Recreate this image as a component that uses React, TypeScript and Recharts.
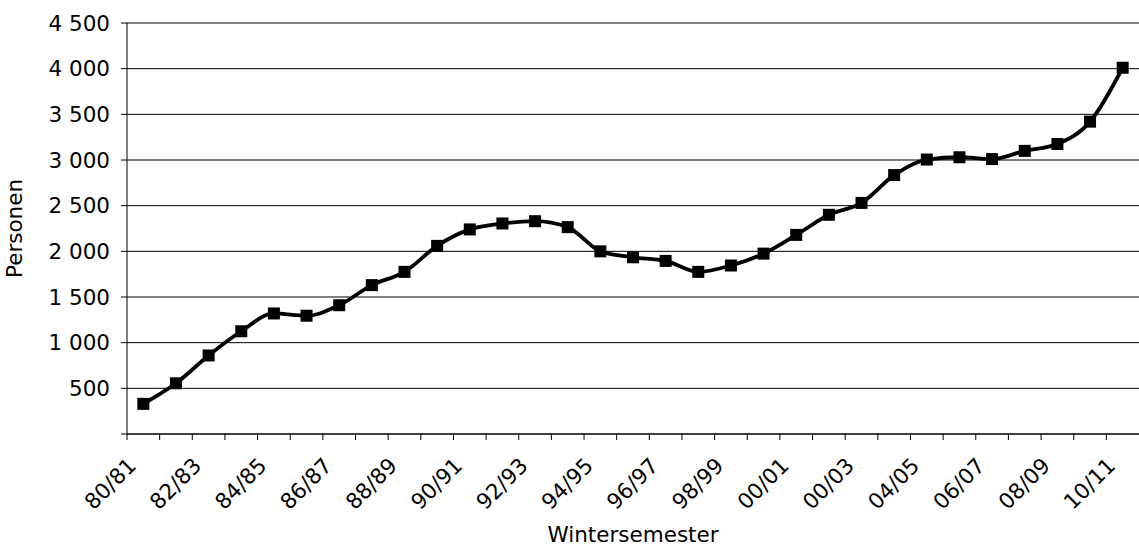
import React from 'react';
import { LineChart, Line, XAxis, YAxis, CartesianGrid, Label } from 'recharts';

const semesters = [
  '80/81', '81/82', '82/83', '83/84', '84/85', '85/86', '86/87', '87/88',
  '88/89', '89/90', '90/91', '91/92', '92/93', '93/94', '94/95', '95/96',
  '96/97', '97/98', '98/99', '99/00', '00/01', '01/02', '00/03', '03/04',
  '04/05', '05/06', '06/07', '07/08', '08/09', '09/10', '10/11',
];

const personen = [
  330, 555, 860, 1125, 1320, 1295, 1410, 1630,
  1775, 2060, 2240, 2305, 2330, 2265, 2000, 1935,
  1895, 1775, 1845, 1975, 2180, 2400, 2530, 2835,
  3005, 3030, 3010, 3100, 3175, 3420, 4010,
];

const yTicks = [0, 500, 1000, 1500, 2000, 2500, 3000, 3500, 4000, 4500];

const data = semesters.map((s, i) => ({ idx: i, label: s, value: personen[i] }));
const xTicks = semesters.map((_, i) => i);

const W = 1139;
const H = 549;
const Y_AXIS_W = 127;
const X_AXIS_H = 115;
const TOP = 23;
const PLOT_W = W - Y_AXIS_W;
const FONT = '"DejaVu Sans", Verdana, sans-serif';
const FS = 21.5;

const fmt = (v: number) => (v === 0 ? '' : v.toLocaleString('en-US').replace(',', ' '));

const XTick = ({ x, y, payload }: any) => {
  const i = payload.value as number;
  const bw = PLOT_W / semesters.length;
  const left = x - bw / 2;
  const ax = x - 6;
  const ay = y + 33;
  return (
    <g>
      <line x1={left} x2={left} y1={y} y2={y + 6} stroke="#000" strokeWidth={1} />
      {i % 2 === 0 && (
        <text
          x={ax}
          y={ay}
          textAnchor="end"
          transform={`rotate(-45, ${ax}, ${ay})`}
          fontFamily={FONT}
          fontSize={FS}
          fill="#000"
        >
          {semesters[i]}
        </text>
      )}
    </g>
  );
};

const SquareDot = (p: any) => (
  <rect key={`d-${p.index}`} x={p.cx - 6} y={p.cy - 6} width={12} height={12} fill="#000" />
);

const XTitle = ({ viewBox }: any) => (
  <text x={viewBox.x + viewBox.width / 2} y={viewBox.y + 108} textAnchor="middle"
    fontFamily={FONT} fontSize={FS} fill="#000">Wintersemester</text>
);

const YTitle = ({ viewBox }: any) => {
  const cx = 22;
  const cy = viewBox.y + viewBox.height / 2;
  return (
    <text x={cx} y={cy} textAnchor="middle" transform={`rotate(-90, ${cx}, ${cy})`}
      fontFamily={FONT} fontSize={FS} fill="#000">Personen</text>
  );
};

export default function App() {
  return (
    <div style={{ position: 'absolute', left: 0, top: 0, width: W, height: H, background: '#fff' }}>
      <LineChart width={W} height={H} data={data} margin={{ top: TOP, right: 0, bottom: 0, left: 0 }}>
        <CartesianGrid vertical={false} stroke="#000" strokeWidth={1} />
        <XAxis
          dataKey="idx"
          type="number"
          domain={[-0.5, semesters.length - 0.5]}
          ticks={xTicks}
          interval={0}
          height={X_AXIS_H}
          tickLine={false}
          tickSize={0}
          tickMargin={0}
          axisLine={{ stroke: '#000' }}
          tick={<XTick />}
        >
          <Label content={<XTitle />} />
        </XAxis>
        <YAxis
          width={Y_AXIS_W}
          domain={[0, 4500]}
          ticks={yTicks}
          interval={0}
          tickFormatter={fmt}
          tickSize={6}
          tickMargin={11}
          tickLine={{ stroke: '#000' }}
          axisLine={{ stroke: '#000' }}
          tick={{ fill: '#000', fontSize: FS, fontFamily: FONT }}
        >
          <Label content={<YTitle />} />
        </YAxis>
        <Line
          type="monotone"
          dataKey="value"
          stroke="#000"
          strokeWidth={3.8}
          dot={SquareDot}
          isAnimationActive={false}
        />
      </LineChart>
    </div>
  );
}
